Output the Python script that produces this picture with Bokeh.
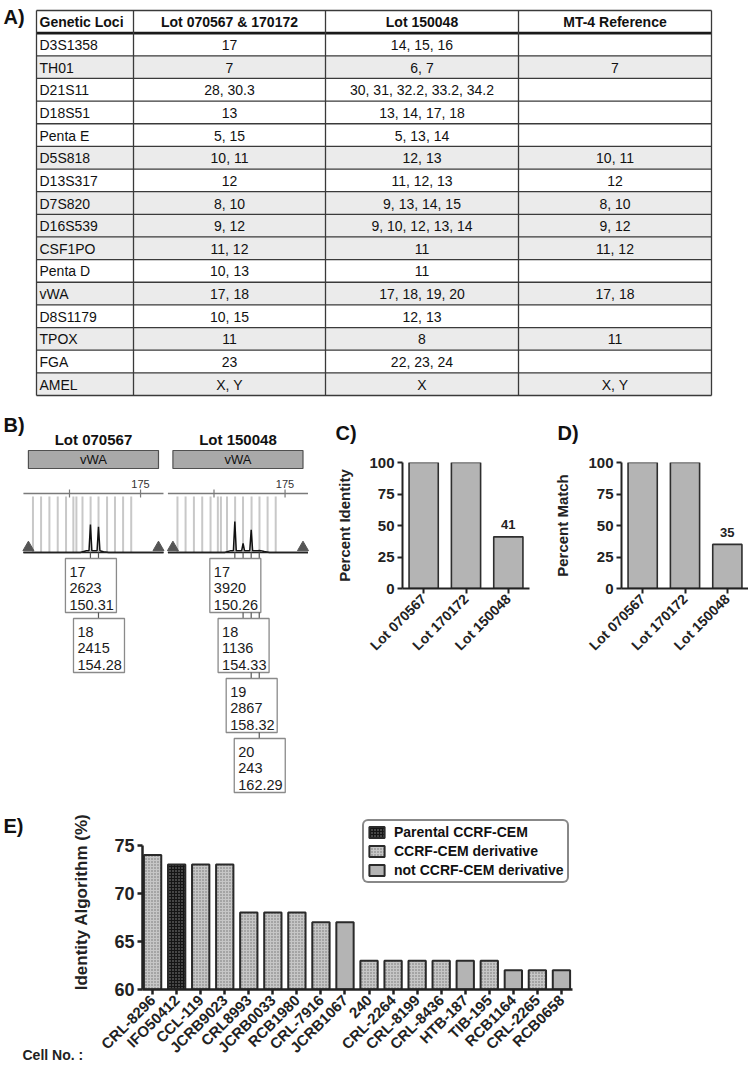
from math import pi
from bokeh.plotting import figure
from bokeh.layouts import column, row
from bokeh.models import (Range1d, FixedTicker, Label, Legend, LegendItem,
                          ColumnDataSource)
from bokeh.core.properties import value
from bokeh.embed import file_html
from bokeh.resources import INLINE

FONT = "Liberation Sans"

# ---------------- data: panel A (STR table) ----------------
table_headers = ["Genetic Loci", "Lot 070567 & 170172", "Lot 150048", "MT-4 Reference"]
loci = ["D3S1358", "TH01", "D21S11", "D18S51", "Penta E", "D5S818", "D13S317",
        "D7S820", "D16S539", "CSF1PO", "Penta D", "vWA", "D8S1179", "TPOX",
        "FGA", "AMEL"]
lot_070567_170172 = ["17", "7", "28, 30.3", "13", "5, 15", "10, 11", "12", "8, 10",
                     "9, 12", "11, 12", "10, 13", "17, 18", "10, 15", "11", "23", "X, Y"]
lot_150048 = ["14, 15, 16", "6, 7", "30, 31, 32.2, 33.2, 34.2", "13, 14, 17, 18",
              "5, 13, 14", "12, 13", "11, 12, 13", "9, 13, 14, 15",
              "9, 10, 12, 13, 14", "11", "11", "17, 18, 19, 20", "12, 13", "8",
              "22, 23, 24", "X"]
mt4_reference = ["", "7", "", "", "", "10, 11", "12", "8, 10", "9, 12", "11, 12",
                 "", "17, 18", "", "11", "", "X, Y"]
shaded_rows = [False, True, False, False, False, True, False, True, True, True,
               False, True, False, True, False, True]

# ---------------- data: panel B (vWA electropherograms) ----------------
epg_lots = ["Lot 070567", "Lot 150048"]
epg_locus = "vWA"
epg_alleles = [["17", "18"], ["17", "18", "19", "20"]]
epg_rfu = [[2623, 2415], [3920, 1136, 2867, 243]]
epg_size = [[150.31, 154.28], [150.26, 154.33, 158.32, 162.29]]
vwa_bins = [122.0, 126.0, 130.1, 134.2, 138.3, 141.9, 143.4, 146.4, 150.4,
            154.3, 158.5, 162.4, 166.4, 170.4]
epg_ticks = [140, 175]
epg_tick_labels = ["", "175"]
epg_window = [117.3, 186.3]

# ---------------- data: panels C / D ----------------
lots_cd = ["Lot 070567", "Lot 170172", "Lot 150048"]
percent_identity = [100, 100, 41]
percent_match = [100, 100, 35]

# ---------------- data: panel E ----------------
cell_no = ["CRL-8296", "IFO50412", "CCL-119", "JCRB9023", "CRL8993", "JCRB0033",
           "RCB1980", "CRL-7916", "JCRB1067", "240", "CRL-2264", "CRL-8199",
           "CRL-8436", "HTB-187", "TIB-195", "RCB1164", "CRL-2265", "RCB0658"]
identity_alg = [74, 73, 73, 73, 68, 68, 68, 67, 67, 63, 63, 63, 63, 63, 63, 62, 62, 62]
groups = ["Parental CCRF-CEM", "CCRF-CEM derivative", "not CCRF-CEM derivative"]
cell_group = [1, 0, 1, 1, 1, 1, 1, 1, 2, 1, 1, 1, 1, 2, 1, 2, 1, 2]

# ---------------- helpers ----------------
INK = "#222222"


def blank(width, height, x0, y0, y1):
    p = figure(width=width, height=height,
               x_range=Range1d(x0, x0 + width), y_range=Range1d(y1, y0),
               toolbar_location=None, output_backend="svg",
               x_axis_location=None, y_axis_location=None, min_border=0,
               outline_line_color=None, frame_align=False)
    p.xgrid.visible = False
    p.ygrid.visible = False
    return p


def txt(p, xs, ys, texts, size, bold=False, align="left", color="#111111"):
    p.text(x=xs, y=ys, text=texts, text_font=value(FONT), text_font_size=size,
           text_font_style="bold" if bold else "normal", text_align=align,
           text_baseline="middle", text_color=color)


# ================= Panel A =================
pa = blank(748, 400, 0, 0, 400)
col_edges = [36, 133, 325, 518, 711]
t_top, t_bot = 10.0, 395.0
nrows = len(loci) + 1
rh = (t_bot - t_top) / nrows
row_top = [t_top + (i + 1) * rh for i in range(len(loci))]
sh = [i for i, s in enumerate(shaded_rows) if s]
pa.quad(left=col_edges[0], right=col_edges[-1], top=[row_top[i] for i in sh],
        bottom=[row_top[i] + rh for i in sh], fill_color="#ebebeb", line_color=None)
hy = [t_top + i * rh for i in range(nrows + 1)]
pa.segment(x0=col_edges[0], x1=col_edges[-1], y0=hy, y1=hy, line_color="#3a3a3a",
           line_width=1.3)
pa.segment(x0=col_edges[0], x1=col_edges[-1], y0=t_top + rh, y1=t_top + rh,
           line_color="#1a1a1a", line_width=2.6)
pa.segment(x0=col_edges, x1=col_edges, y0=t_top, y1=t_bot, line_color="#3a3a3a",
           line_width=1.3)
columns_data = [loci, lot_070567_170172, lot_150048, mt4_reference]
for c in range(4):
    if c == 0:
        cx, al = col_edges[0] + 3, "left"
    else:
        cx, al = (col_edges[c] + col_edges[c + 1]) / 2, "center"
    txt(pa, [cx], [t_top + rh / 2 + 0.5], [table_headers[c]], "14px", True, al)
    txt(pa, [cx] * len(loci), [y + rh / 2 + 0.5 for y in row_top], columns_data[c],
        "14px", False, al)
txt(pa, [3], [16.5], ["A)"], "20px", True)

# ================= Panel B =================
pb = blank(325, 400, 0, 400, 800)
txt(pb, [3], [424], ["B)"], "20px", True)
panel_origin = [69.0, 213.5]   # px position of 140 bp
bp_px = 2.03
peak_px = [28.0, 31.0]
base_y = 552.0
for k in range(2):
    o = panel_origin[k]
    X = (lambda b, o=o: o + (b - 140.0) * bp_px)
    wl, wr = X(epg_window[0]), X(epg_window[1])
    txt(pb, [(wl + wr) / 2], [439], [epg_lots[k]], "15px", True, "center")
    pb.quad(left=wl + 5, right=wr - 5, top=450, bottom=468, fill_color="#a9a9a9",
            line_color="#505050", line_width=1.2)
    txt(pb, [(wl + wr) / 2], [459], [epg_locus], "13px", False, "center")
    pb.segment(x0=wl, x1=wr, y0=493, y1=493, line_color="#7a7a7a", line_width=1.5)
    tx = [X(t) for t in epg_ticks]
    pb.segment(x0=tx, x1=tx, y0=489, y1=497, line_color="#7a7a7a", line_width=1.2)
    txt(pb, tx, [483] * len(tx), epg_tick_labels, "11px", False, "center", "#333333")
    bx = [X(b) for b in vwa_bins]
    pb.segment(x0=bx, x1=bx, y0=496, y1=base_y, line_color="#c8c8c8", line_width=2)
    sc = peak_px[k] / max(epg_rfu[k])
    hump = 0.06 * max(epg_rfu[k])
    s0, s1 = epg_size[k][0], epg_size[k][-1]
    xs = [epg_window[0], s0 - 5, s0 - 2]
    ys = [0, 0, hump]
    for s, h in zip(epg_size[k], epg_rfu[k]):
        xs += [s - 0.7, s, s + 0.7]
        ys += [hump, h, hump]
    xs += [s1 + 2.5, s1 + 5, epg_window[1]]
    ys += [hump * 0.5, 0, 0]
    pb.line(x=[X(v) for v in xs], y=[base_y - v * sc for v in ys], line_color="#111111",
            line_width=1.5)
    pb.segment(x0=wl, x1=wr, y0=base_y, y1=base_y, line_color="#222222", line_width=1.6)
    pb.scatter(x=[wl + 5, wr - 5], y=[base_y - 5, base_y - 5], marker="triangle",
               size=11, fill_color="#555555", line_color="#555555")
    pxs = [X(s) for s in epg_size[k]]
    for i in range(len(pxs)):
        top = 558 + 60 * i
        y_prev = base_y if i == 0 else top - 6
        xs_c = pxs[i:]
        pb.segment(x0=xs_c, x1=xs_c, y0=y_prev, y1=top, line_color="#555555",
                   line_width=1.2)
        left = pxs[i] - 25
        pb.quad(left=left, right=left + 51, top=top, bottom=top + 54,
                fill_color="white", line_color="#8a8a8a", line_width=1.3)
        lines = [epg_alleles[k][i], str(epg_rfu[k][i]), "%.2f" % epg_size[k][i]]
        txt(pb, [left + 4] * 3, [top + 13.5 + 16.3 * j for j in range(3)], lines,
            "14.5px", False, "left", "#1a1a1a")


# ================= Panels C & D =================
def style_axes(p, lw, tick_size, label_size):
    for ax in (p.xaxis[0], p.yaxis[0]):
        ax.axis_line_width = lw
        ax.axis_line_color = INK
        ax.major_tick_line_width = lw
        ax.major_tick_line_color = INK
        ax.major_tick_in = 0
        ax.major_tick_out = 5
        ax.minor_tick_line_color = None
        ax.major_label_text_font = FONT
        ax.major_label_text_font_style = "bold"
        ax.major_label_text_color = INK
        ax.major_label_text_font_size = tick_size
        ax.major_label_standoff = 3
        ax.axis_label_text_font = FONT
        ax.axis_label_text_font_style = "bold"
        ax.axis_label_text_color = INK
        ax.axis_label_text_font_size = label_size
    p.xgrid.visible = False
    p.ygrid.visible = False
    p.outline_line_color = None


def bar_panel(width, vals, ylabel, mleft, mright, lstand):
    p = figure(width=width, height=400, x_range=Range1d(-0.5, len(vals) - 0.5),
               y_range=Range1d(0, 100), toolbar_location=None, output_backend="svg",
               min_border_left=mleft, min_border_right=mright, min_border_top=62,
               min_border_bottom=212, frame_align=False)
    xs = list(range(len(vals)))
    p.vbar(x=xs, top=vals, bottom=0, width=0.69, fill_color="#b4b4b4",
           line_color="#2e2e2e", line_width=1.6)
    style_axes(p, 2, "15px", "15px")
    p.xaxis.major_label_text_font_size = "14px"
    p.xaxis.ticker = FixedTicker(ticks=xs)
    p.xaxis.major_label_overrides = {i: lots_cd[i] for i in xs}
    p.xaxis.major_label_orientation = pi / 4
    p.yaxis.ticker = FixedTicker(ticks=[0, 25, 50, 75, 100])
    p.yaxis.axis_label = ylabel
    p.yaxis.axis_label_standoff = lstand
    for i, v in enumerate(vals):
        if v < 100:
            p.add_layout(Label(x=i, y=v + 9.5, text=str(v), text_font=FONT,
                               text_font_size="13px", text_font_style="bold",
                               text_align="center", text_baseline="middle",
                               text_color=INK))
    return p


pc = bar_panel(225, percent_identity, "Percent Identity", 77, 21, 13)
pd = bar_panel(198, percent_match, "Percent Match", 71, 0, 14)

# ================= Panel E =================
pe = figure(width=748, height=268, x_range=Range1d(-0.42, len(cell_no) - 0.54),
            y_range=Range1d(60, 78.2), toolbar_location=None, output_backend="svg",
            min_border_left=142, min_border_right=176, min_border_top=14,
            min_border_bottom=79, frame_align=False)
styles = [
    dict(fill_color="#151515", hatch_pattern="dot", hatch_color="#8f8f8f",
         hatch_scale=3, hatch_weight=1.5),
    dict(fill_color="#c6c6c6", hatch_pattern="dot", hatch_color="#707070",
         hatch_scale=3, hatch_weight=2.2),
    dict(fill_color="#b4b4b4"),
]
items = []
for g, name in enumerate(groups):
    idx = [i for i, gg in enumerate(cell_group) if gg == g]
    src = ColumnDataSource(dict(x=idx, top=[identity_alg[i] for i in idx]))
    r = pe.vbar(x="x", top="top", bottom=60, width=0.72, source=src,
                line_color="#2a2a2a", line_width=2, **styles[g])
    items.append(LegendItem(label=name, renderers=[r]))
style_axes(pe, 2.5, "18px", "17px")
pe.xaxis.major_label_text_font_size = "15px"
pe.xaxis.ticker = FixedTicker(ticks=list(range(len(cell_no))))
pe.xaxis.major_label_overrides = {i: n for i, n in enumerate(cell_no)}
pe.xaxis.major_label_orientation = pi / 4
pe.yaxis.ticker = FixedTicker(ticks=[60, 65, 70, 75])
pe.yaxis.bounds = (60, 75)
pe.yaxis.axis_label = "Identity Algorithm (%)"
pe.yaxis.axis_label_standoff = 20
leg = Legend(items=items, location=(220, 106), orientation="vertical",
             border_line_color="#111111", border_line_width=2, padding=3,
             spacing=3, margin=0, glyph_width=19, glyph_height=14, label_height=16,
             label_standoff=8, label_text_font=FONT, label_text_font_style="bold",
             label_text_font_size="14px", label_text_color="#111111",
             background_fill_alpha=1)
if "border_radius" in Legend.properties():
    leg.border_radius = 6
pe.add_layout(leg)

# ================= overlay with free texts =================
ov = blank(748, 1068, 0, 0, 1068)
ov.background_fill_color = None
ov.border_fill_color = None
txt(ov, [335, 557, 3], [432, 432, 825.5], ["C)", "D)", "E)"], "20px", True)
txt(ov, [22], [1054], ["Cell No. :"], "14px", True, "left", INK)
ov.margin = (-1068, 0, 0, 0)

layout = column(pa, row(pb, pc, pd), pe, ov)
open("out.html", "w").write(file_html(layout, INLINE))
